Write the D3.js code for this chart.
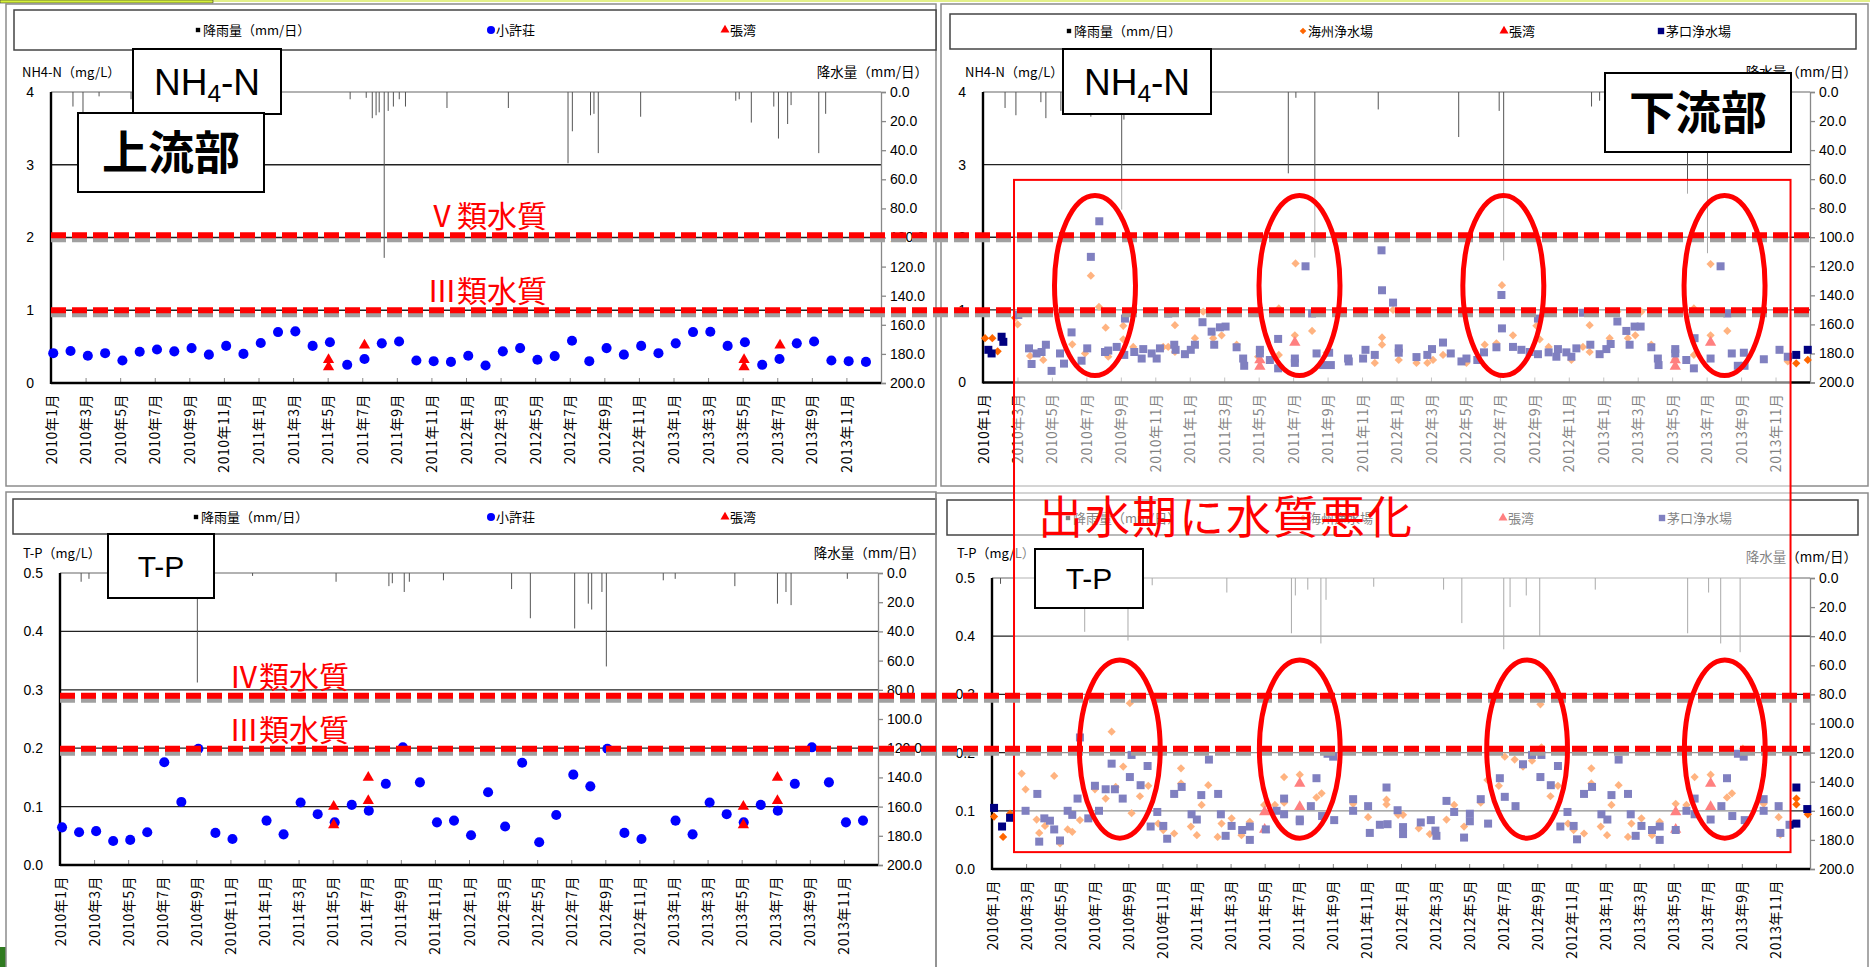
<!DOCTYPE html>
<html lang="ja">
<head>
<meta charset="utf-8">
<title>NH4-N / T-P 上流部・下流部</title>
<script src="https://d3js.org/d3.v7.min.js"></script>
<style>
  body { margin: 0; background: #fff; }
  svg { display: block; }
  text { font-family: "Noto Sans CJK JP", "Noto Sans", sans-serif; }
  text.num { font-family: "Liberation Sans", Arial, sans-serif; }
</style>
</head>
<body>
<script>
var W = 1870, H = 967;

// x axis: months since 2010-01 (0..48), labels every 2 months
var tickLabels = ["2010年1月","2010年3月","2010年5月","2010年7月","2010年9月","2010年11月",
  "2011年1月","2011年3月","2011年5月","2011年7月","2011年9月","2011年11月",
  "2012年1月","2012年3月","2012年5月","2012年7月","2012年9月","2012年11月",
  "2013年1月","2013年3月","2013年5月","2013年7月","2013年9月","2013年11月"];

// ---- upstream: 小許荘 monthly samples (mg/L)
var nhXuzhuang = [0.41,0.44,0.375,0.41,0.31,0.43,0.46,0.435,0.48,0.39,0.51,0.40,
  0.55,0.70,0.71,0.51,0.56,0.25,0.33,0.545,0.57,0.31,0.30,0.29,
  0.375,0.24,0.435,0.48,0.32,0.37,0.58,0.30,0.48,0.39,0.51,0.41,
  0.545,0.70,0.705,0.51,0.56,0.25,0.33,0.545,0.57,0.31,0.30,0.29];
var tpXuzhuang = [0.0645,0.056,0.058,0.041,0.043,0.056,0.176,0.108,0.199,0.055,0.0445,null,
  0.076,0.0525,0.107,0.087,0.073,0.103,0.093,0.139,0.2015,0.1415,0.073,0.076,
  0.051,0.1245,0.066,0.175,0.039,0.0856,0.1547,0.1347,0.199,0.055,0.0445,null,
  0.076,0.0525,0.107,0.087,0.073,0.103,0.093,0.139,0.2015,0.1415,0.073,0.076];
// 張湾 [month, value]
var nhZhangwanUp = [[16.05,0.32],[16.05,0.22],[18.13,0.52],[40.08,0.32],[40.08,0.22],[42.16,0.52]];
var tpZhangwanUp = [[16.06,0.10],[16.06,0.0685],[18.09,0.15],[18.09,0.11],[40.1,0.10],[40.1,0.0685],[42.1,0.15],[42.1,0.11]];

// ---- downstream NH4-N [month, value]
var nhHaizhou = [[0.12,0.61],[0.54,0.61],[0.85,0.43],[1.86,0.89],[2.01,0.80],[2.73,0.365],[3.50,0.31],[5.18,0.525],
  [5.92,0.40],[6.26,1.47],[6.73,1.04],[7.12,0.755],[7.27,0.355],[8.14,0.78],[8.14,0.595],[8.72,0.49],[10.46,0.49],
  [10.75,0.49],[11.14,0.79],[11.14,0.42],[12.30,0.61],[12.78,0.975],[13.36,0.61],[13.85,0.65],[14.72,0.52],
  [15.97,0.355],[17.17,1.02],[17.17,0.38],[18.14,1.64],[18.10,0.65],[19.10,0.71],[19.94,0.41],[22.74,0.27],
  [23.16,0.62],[23.16,0.52],[23.80,1.0],[24.13,0.31],[25.16,0.27],[25.79,0.27],[26.12,0.31],[26.70,0.38],
  [28.06,0.27],[29.12,0.52],[29.80,0.54],[30.12,1.34],[30.76,0.65],[32.12,0.78],[32.31,0.595],[32.83,0.49],
  [34.15,0.31],[34.82,0.49],[35.21,0.79],[35.21,0.42],[36.37,0.61],[36.82,0.975],[37.43,0.61],[37.86,0.65],
  [38.21,0.975],[38.79,0.52],[40.18,0.32],[41.26,1.02],[41.26,0.38],[42.23,1.63],[42.23,0.65],[43.20,0.71],
  [46.71,0.29],[47.20,0.265],[47.87,0.31]];
var nhZhangwanDown = [[16.07,0.31],[16.07,0.22],[18.1,0.55],[40.18,0.31],[40.18,0.22],[42.23,0.55]];
var nhMaokou = [[0.31,0.45],[0.50,0.40],[1.08,0.63],[1.18,0.56],[2.05,0.93],[2.67,0.47],[2.82,0.255],[3.11,0.40],
  [3.40,0.42],[3.65,0.52],[3.98,0.16],[4.47,0.40],[4.70,0.26],[5.14,0.69],[5.72,0.30],[6.05,0.47],[6.26,1.73],
  [6.75,2.22],[7.08,0.42],[7.27,0.44],[7.76,0.49],[8.24,0.88],[8.20,0.38],[8.78,0.42],[9.21,0.33],[9.30,0.46],
  [9.79,0.40],[10.08,0.33],[10.27,0.47],[10.75,0.95],[11.10,0.52],[11.18,0.45],[11.72,0.39],[12.06,0.45],
  [12.30,0.52],[12.74,0.83],[13.27,0.70],[13.42,0.52],[13.75,0.76],[14.08,0.77],[14.72,0.485],[15.10,0.33],
  [15.16,0.23],[16.07,0.45],[16.07,0.40],[16.65,0.31],[17.13,0.60],[17.13,0.195],[18.10,0.33],[18.10,0.27],
  [18.72,1.60],[19.10,0.95],[19.36,0.40],[19.74,0.24],[20.09,0.41],[20.19,0.24],[21.19,0.33],[21.23,0.29],
  [22.06,0.33],[22.20,0.45],[22.74,0.38],[23.13,1.82],[23.16,1.27],[23.80,1.10],[24.13,0.47],[24.13,0.41],
  [25.16,0.35],[25.79,0.38],[26.06,0.46],[26.70,0.55],[27.15,0.40],[27.77,0.29],[28.06,0.33],[28.69,0.31],
  [29.08,0.415],[29.80,0.485],[30.09,1.205],[30.12,0.745],[30.76,0.49],[31.25,0.45],[31.73,0.42],[32.21,0.88],
  [32.21,0.39],[32.83,0.415],[33.28,0.355],[33.37,0.46],[33.86,0.415],[34.15,0.355],[34.44,0.47],[34.82,0.96],
  [35.25,0.52],[35.79,0.39],[36.18,0.46],[36.43,0.53],[36.82,0.84],[37.34,0.71],[37.53,0.52],[37.82,0.77],
  [38.17,0.77],[38.79,0.485],[39.17,0.33],[39.21,0.24],[40.18,0.46],[40.18,0.40],[40.82,0.31],[41.26,0.195],
  [41.30,0.61],[42.23,0.33],[42.81,1.60],[43.20,0.95],[43.46,0.40],[43.81,0.23],[44.16,0.41],[44.20,0.23],
  [45.32,0.32],[46.23,0.45],[46.71,0.355],[47.20,0.38],[47.87,0.45]];

// ---- downstream T-P [month, value]
var tpHaizhou = [[0.12,0.09],[0.65,0.055],[1.06,0.095],[1.74,0.164],[1.97,0.137],[2.62,0.085],[2.77,0.062],
  [3.11,0.074],[3.65,0.160],[3.99,0.044],[4.44,0.068],[4.71,0.064],[5.16,0.084],[6.04,0.137],[6.67,0.121],
  [7.02,0.236],[7.26,0.141],[7.70,0.176],[8.09,0.285],[8.19,0.096],[8.68,0.125],[9.17,0.143],[9.75,0.078],
  [10.05,0.067],[10.69,0.061],[11.09,0.173],[11.09,0.147],[11.67,0.073],[12.02,0.058],[12.30,0.110],[12.69,0.144],
  [13.24,0.055],[13.47,0.078],[14.06,0.087],[14.64,0.058],[15.13,0.081],[15.97,0.110],[16.60,0.110],[17.14,0.158],
  [17.14,0.114],[18.06,0.162],[19.04,0.123],[19.34,0.130],[21.19,0.112],[22.07,0.089],[23.15,0.119],[23.15,0.111],
  [23.83,0.093],[24.12,0.093],[25.04,0.070],[25.69,0.060],[26.67,0.085],[27.12,0.110],[27.70,0.073],[28.68,0.114],
  [29.07,0.153],[29.74,0.143],[30.09,0.193],[30.67,0.188],[31.16,0.176],[31.69,0.186],[32.18,0.283],[32.24,0.209],
  [32.77,0.125],[33.21,0.143],[33.80,0.078],[34.13,0.067],[34.74,0.061],[35.17,0.173],[35.17,0.147],[35.72,0.073],
  [36.09,0.058],[36.35,0.110],[36.77,0.144],[37.32,0.055],[37.52,0.078],[38.11,0.087],[38.73,0.058],[39.18,0.081],
  [40.12,0.112],[40.75,0.110],[41.23,0.158],[42.17,0.162],[43.13,0.123],[43.42,0.130],[44.06,0.207],[45.28,0.112],
  [46.16,0.089],[46.26,0.059],[47.20,0.121],[47.20,0.111],[47.87,0.094]];
var tpZhangwanDown = [[16.0,0.098],[16.0,0.068],[18.06,0.147],[18.06,0.107],[40.12,0.098],[40.12,0.068],[42.17,0.147],[42.17,0.107]];
var tpMaokou = [[0.12,0.105],[0.59,0.073],[1.06,0.088],[1.97,0.100],[2.66,0.129],[2.77,0.047],[3.07,0.087],
  [3.40,0.083],[3.65,0.068],[3.99,0.049],[4.44,0.100],[4.71,0.093],[5.02,0.121],[5.16,0.226],[5.65,0.087],
  [6.04,0.143],[6.28,0.100],[6.67,0.137],[7.02,0.181],[7.21,0.137],[7.67,0.121],[8.09,0.158],[8.19,0.196],
  [8.72,0.144],[9.13,0.177],[9.31,0.073],[9.70,0.098],[10.05,0.074],[10.28,0.052],[10.69,0.129],[11.13,0.141],
  [11.71,0.094],[12.02,0.085],[12.28,0.127],[12.73,0.188],[13.27,0.129],[13.43,0.094],[13.71,0.057],[14.06,0.074],
  [14.68,0.067],[15.13,0.073],[15.13,0.050],[16.07,0.068],[16.70,0.100],[17.14,0.121],[17.14,0.094],[18.06,0.085],
  [18.06,0.082],[18.71,0.108],[19.04,0.156],[19.37,0.091],[19.69,0.198],[20.02,0.193],[20.08,0.084],[21.19,0.120],
  [21.19,0.100],[22.07,0.108],[22.17,0.062],[22.76,0.076],[23.15,0.140],[23.21,0.077],[23.80,0.101],[24.12,0.072],
  [24.12,0.060],[25.16,0.080],[25.75,0.084],[26.02,0.066],[26.08,0.057],[26.67,0.117],[27.12,0.098],[27.70,0.054],
  [28.04,0.082],[28.04,0.095],[28.68,0.120],[29.11,0.078],[29.80,0.156],[30.09,0.124],[30.72,0.108],[31.16,0.180],
  [31.69,0.196],[32.24,0.196],[32.18,0.158],[32.79,0.144],[33.21,0.177],[33.35,0.073],[33.77,0.098],[34.13,0.074],
  [34.33,0.051],[34.74,0.129],[35.21,0.141],[35.76,0.094],[36.11,0.085],[36.35,0.127],[36.77,0.188],[37.32,0.129],
  [37.48,0.094],[37.77,0.057],[38.11,0.074],[38.73,0.067],[39.18,0.073],[39.18,0.050],[40.12,0.067],[40.75,0.100],
  [41.23,0.121],[41.23,0.094],[42.17,0.085],[42.80,0.108],[43.13,0.156],[43.44,0.091],[43.77,0.198],[44.11,0.193],
  [44.17,0.084],[45.28,0.120],[45.28,0.100],[46.16,0.108],[46.26,0.062],[46.80,0.076],[47.20,0.140],[47.20,0.078],
  [47.84,0.103]];

// ---- daily rainfall (mm/日) [month, mm]
var rainNhUp = [[1.27,10],[1.85,14],[2.78,3],[4.63,5],[17.3,5],[18.23,4],[18.58,18],[18.8,16],[18.98,14],
  [19.27,114],[19.5,13],[19.8,10],[20.14,5],[20.5,10],[22.9,11],[26.45,11],[29.9,49],[30.15,27],[31.2,16],
  [31.4,15],[31.65,42],[34.1,17],[39.6,6],[39.8,5],[40.5,21],[41.8,10],[42.07,32],[42.6,22],[42.8,9],[44.4,42],[44.8,15]];
var rainNhDown = [[1.28,11],[1.91,16],[3.36,7],[3.65,18],[4.52,13],[6.26,17],[8.05,81],[8.18,19],[17.72,56],
  [18.16,4],[19.26,114],[22.94,12],[27.61,31],[29.96,13],[30.22,116],[35.32,10],[35.79,6],[40.89,70],[42.05,111]];
var rainTpUp = [[1.24,6],[1.7,4],[8.06,75],[11.3,2],[16.2,6],[19.3,9],[19.5,7],[20.2,13],[20.5,6],[22.5,5],
  [26.5,11],[27.6,31],[30.2,38],[31.0,21],[31.2,25],[31.8,13],[32.06,64],[35.4,5],[36.1,4],[39.6,9],[42.1,21],
  [42.6,13],[42.9,22],[46.2,4]];
var rainTpDown = [[0.5,4],[1.3,6],[3.2,3],[5.44,37],[7.98,43],[9.4,5],[13.78,10],[17.57,38],[17.8,12],[18.53,8],
  [19.3,45],[19.6,15],[22.4,6],[26.5,8],[27.57,31],[30.03,49],[30.4,20],[31.35,12],[32.14,40],[35.4,8],
  [40.82,38],[42.05,10],[42.76,45],[43.9,51]];

// water quality class lines and annotations
var nhLimits = [2.03, 1.0], nhLimitLabels = ["Ⅴ類水質", "Ⅲ類水質"];
var tpLimits = [0.29, 0.199], tpLimitLabels = ["Ⅳ類水質", "Ⅲ類水質"];
var nhRings = [6.5, 18.37, 30.2, 43.04];
var tpRings = [7.5, 18.06, 31.4, 43.0];

var styles = {
  circle:   {type: d3.symbolCircle,   size: 80, color: "#0000ff", rot: 0},
  triangle: {type: d3.symbolTriangle, size: 55, color: "#ff0000", rot: 0},
  diamond:  {type: d3.symbolSquare,   size: 34, color: "#ff6600", rot: 45},
  square:   {type: d3.symbolSquare,   size: 64, color: "#000080", rot: 0},
  rain:     {type: d3.symbolSquare,   size: 30, color: "#000000", rot: 0}
};

var panels = [
  {frame: [6, 4, 930, 482], legendBox: [14, 10, 922, 40], legendY: 30,
   legend: [["rain", 198, "降雨量（mm/日）"], ["circle", 491, "小許荘"], ["triangle", 725, "張湾"]],
   x0: 51, x1: 881, y0: 92, y1: 383, yMax: 4, yTicks: [0, 1, 2, 3, 4], yFmt: "d",
   yLabel: "NH4-N（mg/L）", yLabelX: 22, yLabelY: 72, rLabelY: 72, rain: rainNhUp,
   series: [["circle", nhXuzhuang.map(function(v, i) { return [i + 0.13, v]; })], ["triangle", nhZhangwanUp]],
   boxes: [[133, 49, 148, 65, "NH4-N", 37], [78, 113, 186, 79, "上流部", 46]]},
  {frame: [941, 4, 927, 482], legendBox: [950, 14, 906, 35], legendY: 31,
   legend: [["rain", 1069, "降雨量（mm/日）"], ["diamond", 1303, "海州浄水場"], ["triangle", 1504, "張湾"], ["square", 1661, "茅口浄水場"]],
   x0: 983, x1: 1810, y0: 92, y1: 382.5, yMax: 4, yTicks: [0, 1, 2, 3, 4], yFmt: "d",
   yLabel: "NH4-N（mg/L）", yLabelX: 965, yLabelY: 72, rLabelY: 72, rain: rainNhDown,
   series: [["diamond", nhHaizhou], ["triangle", nhZhangwanDown], ["square", nhMaokou]],
   boxes: [[1063, 49, 148, 65, "NH4-N", 37], [1605, 73, 186, 79, "下流部", 46]]},
  {frame: [6, 492, 930, 480], legendBox: [13, 499, 923, 35], legendY: 517,
   legend: [["rain", 196, "降雨量（mm/日）"], ["circle", 491, "小許荘"], ["triangle", 725, "張湾"]],
   x0: 60, x1: 878, y0: 573, y1: 865, yMax: 0.5, yTicks: [0, 0.1, 0.2, 0.3, 0.4, 0.5], yFmt: ".1f",
   yLabel: "T-P（mg/L）", yLabelX: 23, yLabelY: 553, rLabelY: 553, rain: rainTpUp,
   series: [["circle", tpXuzhuang.map(function(v, i) { return [i + 0.12, v]; }).filter(function(d) { return d[1] !== null; })], ["triangle", tpZhangwanUp]],
   boxes: [[108, 534, 106, 64, "T-P", 30]]},
  {frame: [936, 493, 932, 480], legendBox: [947, 500, 911, 35], legendY: 518,
   legend: [["rain", 1068, "降雨量（mm/日）"], ["diamond", 1303, "海州浄水場"], ["triangle", 1503, "張湾"], ["square", 1662, "茅口浄水場"]],
   x0: 992, x1: 1810, y0: 578, y1: 869, yMax: 0.5, yTicks: [0, 0.1, 0.2, 0.3, 0.4, 0.5], yFmt: ".1f",
   yLabel: "T-P（mg/L）", yLabelX: 957, yLabelY: 553, rLabelY: 557, rain: rainTpDown,
   series: [["diamond", tpHaizhou], ["triangle", tpZhangwanDown], ["square", tpMaokou]],
   boxes: []}
];

var svg = d3.select("body").append("svg").attr("width", W).attr("height", H);
svg.append("rect").attr("width", W).attr("height", H).attr("fill", "#fff");
svg.append("rect").attr("x", 0).attr("y", 0).attr("width", W).attr("height", 2).attr("fill", "#e3f08a");
svg.append("rect").attr("x", 0).attr("y", 0).attr("width", 213).attr("height", 3)
   .attr("fill", "#d4f03a").attr("stroke", "#333").attr("stroke-width", 0.6);
svg.append("rect").attr("x", 0).attr("y", 947).attr("width", 6).attr("height", 20).attr("fill", "#2f7a1f");

function symbolPath(kind) {
  return d3.symbol().type(styles[kind].type).size(styles[kind].size)();
}

function titleBox(b) {
  var g = svg.append("g");
  g.append("rect").attr("x", b[0]).attr("y", b[1]).attr("width", b[2]).attr("height", b[3])
   .attr("fill", "#fff").attr("stroke", "#000").attr("stroke-width", 2);
  var t = g.append("text").attr("x", b[0] + b[2] / 2).attr("y", b[1] + b[3] / 2).attr("dy", "0.36em")
   .attr("text-anchor", "middle").style("font-size", b[5] + "px");
  if (b[4] === "NH4-N") {
    t.attr("class", "num");
    t.append("tspan").text("NH");
    t.append("tspan").attr("dy", "0.28em").style("font-size", (b[5] * 0.66) + "px").text("4");
    t.append("tspan").attr("dy", "-0.19em").text("-N");
  } else if (b[4] === "T-P") {
    t.attr("class", "num").text(b[4]);
  } else {
    t.style("font-weight", "bold").text(b[4]);
  }
}

function drawPanel(p) {
  var g = svg.append("g");
  g.append("rect").attr("x", p.frame[0]).attr("y", p.frame[1]).attr("width", p.frame[2]).attr("height", p.frame[3])
   .attr("fill", "none").attr("stroke", "#8c8c8c").attr("stroke-width", 1.5);

  // legend
  g.append("rect").attr("x", p.legendBox[0]).attr("y", p.legendBox[1]).attr("width", p.legendBox[2]).attr("height", p.legendBox[3])
   .attr("fill", "#fff").attr("stroke", "#444").attr("stroke-width", 1.5);
  p.legend.forEach(function(it) {
    g.append("path").attr("d", symbolPath(it[0]))
     .attr("transform", "translate(" + it[1] + "," + p.legendY + ") rotate(" + styles[it[0]].rot + ") scale(0.8)")
     .attr("fill", styles[it[0]].color);
    g.append("text").attr("x", it[1] + 5).attr("y", p.legendY).attr("dy", "0.36em")
     .style("font-size", "13px").text(it[2]);
  });

  var x = d3.scaleLinear().domain([0, 48]).range([p.x0, p.x1]);
  var y = d3.scaleLinear().domain([0, p.yMax]).range([p.y1, p.y0]);
  var r = d3.scaleLinear().domain([0, 200]).range([p.y0, p.y1]);
  p.x = x; p.y = y;

  // grid lines
  g.selectAll(".grid").data(p.yTicks.filter(function(d) { return d > 0; })).enter().append("line")
   .attr("x1", p.x0).attr("x2", p.x1)
   .attr("y1", function(d) { return y(d); }).attr("y2", function(d) { return y(d); })
   .attr("stroke", function(d) { return d === p.yMax ? "#999" : "#222"; })
   .attr("stroke-width", 1.3);

  // rainfall, hanging from the top
  g.selectAll(".rain").data(p.rain).enter().append("line")
   .attr("x1", function(d) { return x(d[0]); }).attr("x2", function(d) { return x(d[0]); })
   .attr("y1", p.y0).attr("y2", function(d) { return r(d[1]); })
   .attr("stroke", "#555").attr("stroke-width", 1);

  // right axis
  var ra = g.append("g").attr("transform", "translate(" + p.x1 + ",0)")
   .call(d3.axisRight(r).tickValues(d3.range(0, 201, 20)).tickSize(5).tickPadding(4).tickFormat(d3.format(".1f")));
  ra.selectAll("path, line").attr("stroke", "#888").attr("stroke-width", 1.3);
  ra.selectAll("text").attr("class", "num").style("font-size", "14px").attr("fill", "#000");

  // x axis
  var xa = g.append("g").attr("transform", "translate(0," + p.y1 + ")")
   .call(d3.axisBottom(x).tickValues(d3.range(0, 47, 2)).tickSizeInner(-5).tickSizeOuter(0)
     .tickFormat(function(d, i) { return tickLabels[i]; }));
  xa.select(".domain").remove();
  xa.selectAll("line").attr("stroke", "#888");
  xa.selectAll("text").attr("transform", "rotate(-90)").attr("x", -11).attr("y", 0).attr("dy", "0.36em")
   .style("text-anchor", "end").style("font-size", "14px").style("letter-spacing", "0.5px").attr("fill", "#000");

  // left axis
  var la = g.append("g").attr("transform", "translate(" + p.x0 + ",0)")
   .call(d3.axisLeft(y).tickValues(p.yTicks).tickSize(0).tickPadding(17).tickFormat(d3.format(p.yFmt)));
  la.select(".domain").remove();
  la.selectAll("text").attr("class", "num").style("font-size", "14px").attr("fill", "#000");

  g.append("line").attr("x1", p.x0).attr("x2", p.x0).attr("y1", p.y0).attr("y2", p.y1 + 1)
   .attr("stroke", "#000").attr("stroke-width", 2.4);
  g.append("line").attr("x1", p.x0).attr("x2", p.x1).attr("y1", p.y1).attr("y2", p.y1)
   .attr("stroke", "#000").attr("stroke-width", 2.4);

  // axis titles
  g.append("text").attr("x", p.yLabelX).attr("y", p.yLabelY).attr("dy", "0.36em")
   .style("font-size", "13px").text(p.yLabel);
  g.append("text").attr("x", p.x1 + 47).attr("y", p.rLabelY).attr("dy", "0.36em").attr("text-anchor", "end")
   .style("font-size", "13.5px").text("降水量（mm/日）");

  // data series
  p.series.forEach(function(s) {
    var st = styles[s[0]];
    g.selectAll(null).data(s[1]).enter().append("path")
     .attr("d", symbolPath(s[0]))
     .attr("transform", function(d) { return "translate(" + x(d[0]) + "," + y(d[1]) + ") rotate(" + st.rot + ")"; })
     .attr("fill", st.color);
  });

  p.boxes.forEach(titleBox);
}

panels.forEach(drawPanel);

var p1 = panels[0], p2 = panels[1], p3 = panels[2], p4 = panels[3];

// highlighted area (white wash + red frame)
svg.append("rect")
   .attr("x", p2.x(1.8)).attr("y", p2.y(2.79))
   .attr("width", p2.x(46.87) - p2.x(1.8)).attr("height", p4.y(0.029) - p2.y(2.79))
   .attr("fill", "#fff").attr("fill-opacity", 0.5)
   .attr("stroke", "#ff0000").attr("stroke-width", 2);

// class limit dashed lines, across both panels of a row
function limitLines(vals, labels, pl, pr, labelX) {
  vals.forEach(function(v, i) {
    var yy = pl.y(v);
    svg.append("line").attr("x1", pl.x0).attr("x2", pr.x1).attr("y1", yy + 4).attr("y2", yy + 4)
     .attr("stroke", "#a0a0a0").attr("stroke-width", 6).attr("stroke-dasharray", "15,6");
    svg.append("line").attr("x1", pl.x0).attr("x2", pr.x1).attr("y1", yy).attr("y2", yy)
     .attr("stroke", "#ff0000").attr("stroke-width", 6).attr("stroke-dasharray", "15,6");
    svg.append("text").attr("x", labelX).attr("y", yy - 8).attr("text-anchor", "middle")
     .style("font-size", "30px").attr("fill", "#ff0000").text(labels[i]);
  });
}
limitLines(nhLimits, nhLimitLabels, p1, p2, 487);
limitLines(tpLimits, tpLimitLabels, p3, p4, 289);

// rings around the wet-season peaks
svg.selectAll(".ringNh").data(nhRings).enter().append("ellipse")
   .attr("cx", function(d) { return p2.x(d); }).attr("cy", p2.y(1.336))
   .attr("rx", p2.x(2.35) - p2.x(0)).attr("ry", p2.y(0) - p2.y(1.24))
   .attr("fill", "none").attr("stroke", "#ff0000").attr("stroke-width", 5);
svg.selectAll(".ringTp").data(tpRings).enter().append("ellipse")
   .attr("cx", function(d) { return p4.x(d); }).attr("cy", p4.y(0.206))
   .attr("rx", p4.x(2.37) - p4.x(0)).attr("ry", p4.y(0) - p4.y(0.153))
   .attr("fill", "none").attr("stroke", "#ff0000").attr("stroke-width", 5);

svg.append("text").attr("x", 1038).attr("y", 534)
   .style("font-size", "45px").style("letter-spacing", "2px").attr("fill", "#ff0000")
   .text("出水期に水質悪化");

titleBox([1035, 549, 108, 59, "T-P", 30]);
</script>
</body>
</html>
